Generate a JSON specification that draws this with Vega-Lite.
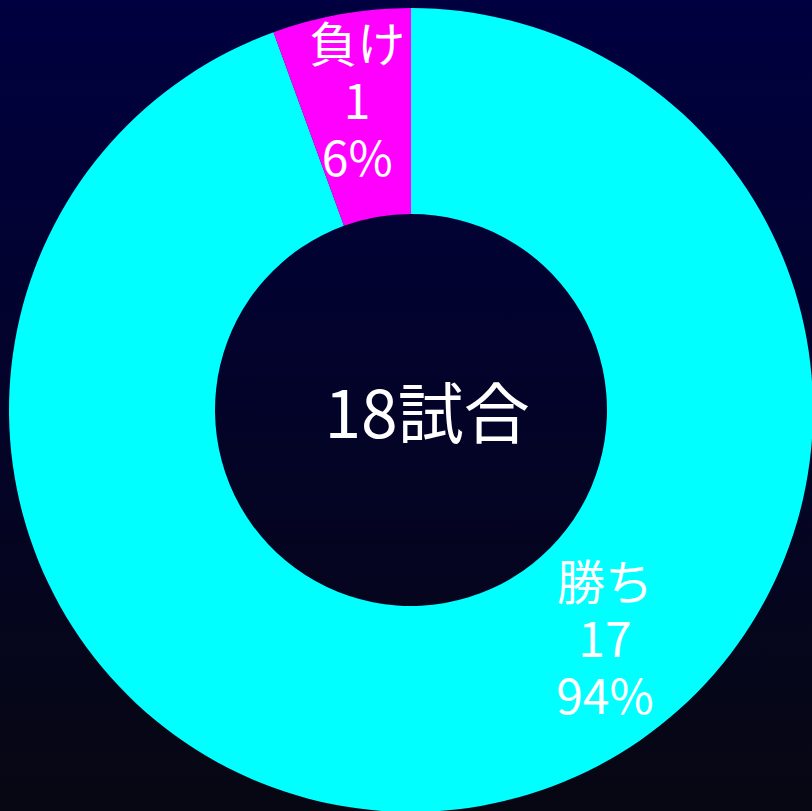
{
  "$schema": "https://vega.github.io/schema/vega-lite/v6.json",
  "width": 822,
  "height": 820,
  "autosize": {"type": "none"},
  "padding": {"left": 0, "top": 0, "right": -10, "bottom": -9},
  "background": "#03032a",
  "config": {"view": {"stroke": null}},
  "data": {"values": [
    {"result": "勝ち", "count": 17},
    {"result": "負け", "count": 1}
  ]},
  "transform": [
    {"joinaggregate": [{"op": "sum", "field": "count", "as": "total"}]},
    {"stack": "count", "groupby": [], "sort": [{"field": "count", "order": "descending"}], "as": ["t0", "t1"]},
    {"calculate": "(datum.t0 + datum.t1) / 2", "as": "mid"},
    {"calculate": "[datum.result, '' + datum.count, format(datum.count / datum.total, '.0%')]", "as": "label"}
  ],
  "layer": [
    {
      "mark": {"type": "rect", "fill": {"gradient": "linear", "x1": 0, "y1": 0, "x2": 0, "y2": 1, "stops": [{"offset": 0, "color": "#000040"}, {"offset": 1, "color": "#070712"}]}},
      "encoding": {
        "x": {"value": 0}, "x2": {"value": "width"},
        "y": {"value": 0}, "y2": {"value": "height"}
      }
    },
    {
      "mark": {"type": "arc", "outerRadius": 402, "innerRadius": 196},
      "encoding": {
        "theta": {"field": "count", "type": "quantitative", "stack": true},
        "order": {"field": "count", "type": "quantitative", "sort": "descending"},
        "color": {"field": "result", "type": "nominal", "scale": {"domain": ["勝ち", "負け"], "range": ["#00FFFF", "#FF00FF"]}, "legend": null}
      }
    },
    {
      "transform": [{"filter": "datum.result == '負け'"}],
      "mark": {"type": "text", "radius": 310, "dy": -57, "fontSize": 48, "lineHeight": 57, "font": "Noto Sans CJK JP", "color": "#FFFFFF", "align": "center", "baseline": "middle"},
      "encoding": {
        "theta": {"field": "mid", "type": "quantitative"},
        "text": {"field": "label"}
      }
    },
    {
      "transform": [{"filter": "datum.result == '勝ち'"}],
      "mark": {"type": "text", "radius": 303, "thetaOffset": -0.52, "dy": -57, "fontSize": 48, "lineHeight": 57, "font": "Noto Sans CJK JP", "color": "#FFFFFF", "align": "center", "baseline": "middle"},
      "encoding": {
        "theta": {"field": "mid", "type": "quantitative"},
        "text": {"field": "label"}
      }
    },
    {
      "transform": [
        {"aggregate": [{"op": "sum", "field": "count", "as": "n"}]},
        {"calculate": "datum.n + '試合'", "as": "center"}
      ],
      "mark": {"type": "text", "fontSize": 66, "font": "Noto Sans CJK JP", "color": "#FFFFFF", "align": "center", "baseline": "middle", "dx": 16, "dy": 8},
      "encoding": {
        "text": {"field": "center"}
      }
    }
  ]
}
